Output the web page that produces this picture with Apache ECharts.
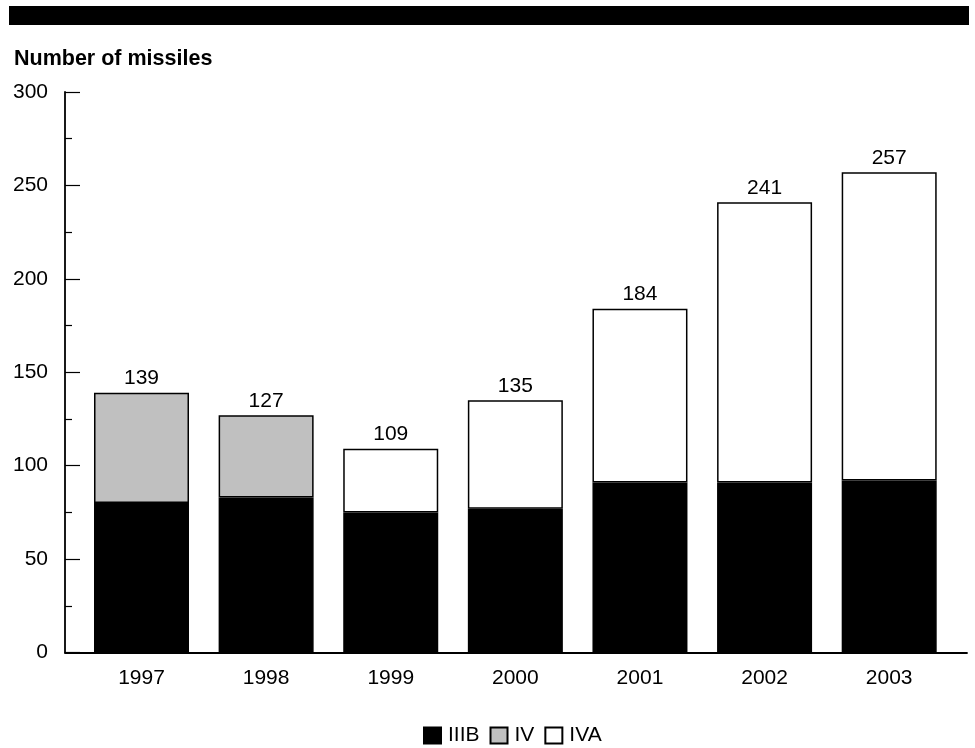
<!DOCTYPE html>
<html>
<head>
<meta charset="utf-8">
<script src="https://cdn.jsdelivr.net/npm/echarts@6/dist/echarts.min.js"></script>
<style>
html,body{margin:0;padding:0;background:#fff;}
#chart{width:975px;height:748px;}
</style>
</head>
<body>
<div id="chart"></div>
<script>
var years = ['1997','1998','1999','2000','2001','2002','2003'];
var iiib = [80, 83, 75, 77, 91, 91, 92];
var iv = [59, 44, null, null, null, null, null];
var iva = [null, null, 34, 58, 93, 150, 165];
var totals = [139, 127, 109, 135, 184, 241, 257];
var yTicks = [0, 50, 100, 150, 200, 250, 300];

var FONT = '"Liberation Sans", Arial, sans-serif';

function topLabelled(arr, otherTop) {
  return arr.map(function (v, i) {
    var isTop = v != null && otherTop[i] == null;
    return {
      value: v == null ? '-' : v,
      label: {
        show: isTop,
        position: 'top',
        distance: 4,
        color: '#000',
        fontFamily: FONT,
        fontSize: 21,
        formatter: function () { return String(totals[i]); }
      }
    };
  });
}

var chart = echarts.init(document.getElementById('chart'), null, {renderer: 'canvas'});
chart.setOption({
  animation: false,
  backgroundColor: '#fff',
  title: {
    text: 'Number of missiles',
    left: 9,
    top: 43,
    textStyle: {fontFamily: FONT, fontSize: 21.5, fontWeight: 'bold', color: '#000'}
  },
  graphic: [{
    type: 'rect',
    shape: {x: 9, y: 6, width: 960, height: 19},
    style: {fill: '#000'}
  }],
  legend: {
    left: 418,
    top: 720,
    itemWidth: 17,
    itemHeight: 16,
    itemGap: 10,
    icon: 'rect',
    textStyle: {fontFamily: FONT, fontSize: 21, color: '#000', padding: [0, 0, 0, 2]},
    data: ['IIIB', 'IV', 'IVA']
  },
  grid: [
    {left: 65, right: 8, top: 92, bottom: 95.5},
    {left: 79.2, right: 23.5, top: 92, bottom: 95.5}
  ],
  xAxis: [
    {
      type: 'value', gridIndex: 0, min: 0, max: 1,
      axisLine: {show: true, onZero: false, lineStyle: {color: '#000', width: 1.8}},
      axisTick: {show: false}, axisLabel: {show: false}, splitLine: {show: false}
    },
    {
      type: 'category', gridIndex: 1, data: years,
      axisLine: {show: false}, axisTick: {show: false},
      axisLabel: {fontFamily: FONT, fontSize: 21, color: '#000', margin: 15},
      splitLine: {show: false}
    }
  ],
  yAxis: [
    {
      type: 'value', gridIndex: 0, min: 0, max: 300, interval: 50,
      axisLine: {show: true, onZero: false, lineStyle: {color: '#000', width: 1.8}},
      axisTick: {show: true, inside: true, length: 15, lineStyle: {color: '#000', width: 1.2}},
      minorTick: {show: true, splitNumber: 2, length: 7, lineStyle: {color: '#000', width: 1.2}},
      axisLabel: {fontFamily: FONT, fontSize: 21, color: '#000', margin: 17,
        formatter: function (v) { return yTicks.indexOf(v) >= 0 ? String(v) : ''; }},
      splitLine: {show: false}
    },
    {
      type: 'value', gridIndex: 1, min: 0, max: 300, show: false
    }
  ],
  series: [
    {
      name: 'IIIB', type: 'bar', stack: 'm', xAxisIndex: 1, yAxisIndex: 1,
      barWidth: 95, data: iiib,
      itemStyle: {color: '#000', borderColor: '#000', borderWidth: 1.5}
    },
    {
      name: 'IV', type: 'bar', stack: 'm', xAxisIndex: 1, yAxisIndex: 1,
      barWidth: 95, data: topLabelled(iv, iva),
      itemStyle: {color: '#c0c0c0', borderColor: '#000', borderWidth: 1.5}
    },
    {
      name: 'IVA', type: 'bar', stack: 'm', xAxisIndex: 1, yAxisIndex: 1,
      barWidth: 95, data: topLabelled(iva, [null,null,null,null,null,null,null]),
      itemStyle: {color: '#fff', borderColor: '#000', borderWidth: 1.5}
    }
  ]
});
</script>
</body>
</html>
